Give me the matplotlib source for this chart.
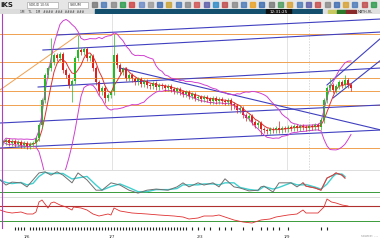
import matplotlib
matplotlib.use("Agg")
import matplotlib.pyplot as plt
import numpy as np
import pandas as pd
from matplotlib.patches import Rectangle

W, H = 380, 240

# ---- price data (one bar every 3 px) ----
closes = [
    102.8, 103.0, 102.7, 102.9, 102.6, 102.8, 102.5, 102.7, 102.4, 102.6, 102.7,
    103.2, 104.5, 107.0, 109.5, 110.2, 110.8, 111.5, 111.2, 111.6, 110.0,
    109.5, 108.5, 108.9, 111.2, 112.0, 111.8, 112.1, 111.2, 111.4, 110.2,
    108.8, 107.8, 108.2, 107.2, 107.5, 107.8, 111.5, 110.5, 109.8, 110.1,
    109.2, 109.5, 109.1, 108.8, 109.1, 108.6, 108.9, 108.5, 108.4, 108.7,
    108.3, 108.5, 108.4, 108.2, 108.4, 108.1, 107.9, 108.1, 107.8, 107.6,
    107.8, 107.4, 107.6, 107.2, 107.3, 107.1, 107.3, 107.1, 106.9, 107.2,
    106.9, 107.1, 106.9, 106.8, 107.0, 106.6, 106.4, 106.0, 106.2, 105.5,
    105.2, 105.4, 104.8, 104.5, 104.7, 104.1, 104.0, 103.9, 104.1, 104.0,
    104.2, 104.0, 104.2, 104.1, 104.3, 104.2, 104.4, 104.2, 104.4, 104.3,
    104.2, 104.4, 104.3, 104.5, 104.3, 105.0, 107.0, 108.2, 108.5, 108.0,
    108.4, 108.8, 108.5, 109.0, 108.5, 108.2,
]
spike_high = {16: 113.2, 25: 113.5, 37: 113.6, 114: 109.5, 109: 109.2, 92: 104.9}
spike_low = {23: 106.8, 34: 106.7, 76: 106.0, 86: 103.5}
wick = 0.25

h_levels = [113.6, 110.8, 109.2, 107.9, 106.5, 102.2]
orange_diag = [(-1, 108.0), (25, 113.5)]
blue_lines = [
    [(18, 113.5), (126, 115.1)],
    [(13.3, 112.0), (126, 113.8)],
    [(11.7, 108.3), (126, 110.2)],
    [(-1, 104.7), (126, 106.5)],
    [(-1, 102.2), (126, 104.0)],
    [(39, 110.2), (126, 104.0)],
    [(108, 108.5), (126, 113.2)],
    [(110, 107.2), (126, 111.0)],
]

# oscillator 1 (bar index, value)
osc1_x = [-1, 1, 3, 6, 8, 10, 12, 14, 16, 18, 20, 23, 25, 28, 31, 33, 36, 39, 42, 45,
          48, 51, 55, 58, 60, 62, 65, 67, 70, 72, 74, 77, 79, 82, 85, 86, 87, 90, 92,
          96, 98, 100, 101, 104, 106, 108, 110, 111, 113, 114]
osc1_y = [53, 39, 47, 45, 34, 53, 72, 75, 66, 75, 66, 45, 72, 53, 25, 25, 45, 39, 25, 17,
          25, 28, 25, 34, 45, 34, 45, 39, 45, 34, 56, 34, 31, 23, 25, 34, 36, 20, 45,
          45, 34, 45, 36, 31, 25, 58, 66, 72, 66, 58]

# oscillator 2 (bar index, value)
osc2_x = [-1, 1, 3, 6, 8, 10, 11, 12, 13, 15, 16, 17, 19, 21, 23, 23.5, 26, 28, 30, 32,
          35, 36, 37, 39, 43, 48, 52, 57, 60, 62, 65, 67, 70, 72, 73, 77, 80, 83, 86,
          89, 91, 95, 98, 100, 101, 105, 107, 108, 109.5, 111, 113, 115]
osc2_y = [52, 48, 46, 48, 44, 44, 48, 68, 72, 56, 66, 68, 62, 58, 52, 58, 56, 52, 44, 40,
          44, 42, 56, 50, 46, 44, 42, 40, 38, 34, 36, 40, 40, 42, 40, 32, 28, 26, 32,
          34, 38, 42, 44, 52, 46, 46, 58, 74, 68, 66, 62, 60]

date_ticks = [8, 36.3, 65.7, 94.7]
date_labels = ["1/6", "1/7", "2/3", "1/9"]

# ---- figure ----
fig = plt.figure(figsize=(W / 100, H / 100), dpi=100)
fig.patch.set_facecolor("white")


def px_axes(x0, y0, x1, y1, **kw):
    return fig.add_axes([x0 / W, 1 - y1 / H, (x1 - x0) / W, (y1 - y0) / H], **kw)


# toolbar
tb = px_axes(0, 0, 380, 9)
tb.set_xlim(0, 380); tb.set_ylim(9, 0); tb.axis("off")
tb.add_patch(Rectangle((0, 0), 380, 9, color="#e6e6e6"))
tb.text(0.5, 5, "iKS", fontsize=5, fontweight="bold", va="center", color="#222")
tb.add_patch(Rectangle((27, 1.5), 31, 6, facecolor="white", edgecolor="#999", lw=0.4))
tb.text(29, 4.7, "SDK-ID 10:56", fontsize=2.2, va="center", color="#333")
tb.add_patch(Rectangle((68, 1.5), 20, 6, facecolor="white", edgecolor="#999", lw=0.4))
tb.text(70, 4.7, "SYEUM", fontsize=2.4, va="center", color="#333")
icon_cols = ["#777", "#4a7ab8", "#888", "#2a9a4a", "#d04040", "#6a8ac8", "#999", "#3a6ab0",
             "#c8a030", "#4a7ab8", "#888", "#d05050", "#5a5aa8", "#2a8ac8", "#c04848",
             "#888", "#4a7ab8", "#e8a020", "#3a6ab0", "#777", "#4a9a5a", "#d8a030",
             "#4a7ab8", "#5a5aa8", "#c84848", "#888", "#3a6ab0", "#d8a030", "#4a7ab8",
             "#c04848", "#2a9a4a"]
for k, c in enumerate(icon_cols):
    tb.add_patch(Rectangle((92 + k * 9.3, 2), 5, 5, color=c, alpha=0.8))

# status bar
sb = px_axes(0, 9, 380, 14)
sb.set_xlim(0, 380); sb.set_ylim(5, 0); sb.axis("off")
sb.add_patch(Rectangle((0, 0), 95, 5, color="#dcdcdc"))
sb.add_patch(Rectangle((95, 0), 228, 5, color="#14506e"))
sb.add_patch(Rectangle((323, 0), 57, 5, color="#e0e0e0"))
sb.text(20, 2.6, "1M    TL    1M   ####  ###  ####  ###", fontsize=2.2, va="center", color="#333")
sb.add_patch(Rectangle((266, 0.3), 25, 4.4, color="#111"))
sb.text(278.5, 2.6, "12:31:25", fontsize=3, va="center", ha="center", color="white")
sb.add_patch(Rectangle((328, 0.5), 9, 4, color="#c8c860"))
sb.add_patch(Rectangle((337, 0.5), 9, 4, color="#2a7a2a"))
sb.add_patch(Rectangle((346, 0.5), 10, 4, color="#8a2a2a"))
sb.text(358, 2.6, "MATH-RL", fontsize=2.4, va="center", color="#333")

# ---- main price panel ----
ax = px_axes(0, 14, 380, 170)
ax.set_xlim(-1, 125.67)
ax.set_ylim(100.0, 115.6)
ax.axis("off")

for xv in [36.3, 94.7]:
    ax.axvline(xv, color="#d8d8d8", lw=0.5)
ax.axvline(102, color="#c8c8c8", lw=0.5, ls=(0, (2, 2)))

for lv in h_levels:
    ax.axhline(lv, color="#f0a050", lw=0.7)
ax.plot(*zip(*orange_diag), color="#f0a050", lw=0.7)
for seg in blue_lines:
    ax.plot(*zip(*seg), color="#4040c0", lw=0.8)

c = pd.Series(closes)
idx = np.arange(len(c))
opens = c.shift(1).fillna(c.iloc[0]).values
cv = c.values

mid = c.rolling(14, min_periods=1).mean()
sd = c.rolling(14, min_periods=2).std().fillna(0)
ax.plot(idx, mid + 2 * sd, color="#d040d0", lw=0.7)
ax.plot(idx, mid - 2 * sd, color="#d040d0", lw=0.7)
ax.plot(idx, c.rolling(5, min_periods=1).mean(), color="#e03030", lw=0.7)

for i in idx:
    o, cl = opens[i], cv[i]
    col = "#22bb22" if cl >= o else "#dd2020"
    hi = spike_high.get(i, max(o, cl) + wick)
    lo = spike_low.get(i, min(o, cl) - wick)
    ax.vlines(i, lo, hi, color=col, lw=0.5)
    ax.add_patch(Rectangle((i - 0.3, min(o, cl)), 0.6, max(abs(cl - o), 0.08),
                           color=col, lw=0))

# ---- oscillator 1 ----
a1 = px_axes(0, 166, 380, 197)
a1.set_xlim(-1, 125.67); a1.set_ylim(6.4, 90.9); a1.axis("off")
a1.patch.set_alpha(0)
a1.axhline(80, color="#cfcfcf", lw=0.5)
a1.axhline(20, color="#3a9a3a", lw=0.7)
s1 = pd.Series(osc1_y, dtype=float)
a1.plot(osc1_x, s1.rolling(2, min_periods=1).mean(), color="#40d0d0", lw=1.0)
a1.plot(osc1_x, s1, color="#707070", lw=0.7)
a1.plot(osc1_x[-9:], s1.values[-9:], color="#e04040", lw=0.7)

# ---- oscillator 2 ----
a2 = px_axes(0, 197, 380, 227)
a2.set_xlim(-1, 125.67); a2.set_ylim(18, 78)
a2.patch.set_alpha(0)
for sp in a2.spines.values():
    sp.set_visible(False)
a2.axhline(78, color="#cfcfcf", lw=0.5)
a2.axhline(60, color="#b03030", lw=0.8)
a2.axhline(30, color="#3a9a3a", lw=0.7)
a2.plot(osc2_x, osc2_y, color="#e03030", lw=0.6)
a2.set_yticks([])
a2.set_xticks(date_ticks)
a2.set_xticklabels(date_labels, fontsize=3, color="#333")
a2.set_xticks(list(range(4, 62)) + [63, 65, 67, 69, 72, 74, 76, 80, 83, 86, 88, 90, 92, 95, 106, 108], minor=True)
a2.tick_params(axis="x", which="major", length=0, pad=6)
a2.tick_params(axis="x", which="minor", length=1.8, width=0.8, color="#222", direction="out", pad=0.5)

fig.add_artist(plt.Line2D([2 / W, 2 / W], [1 - 228 / H, 1 - 14 / H], color="#b040c0", lw=0.8))
fig.text(378 / W, 1 - 237 / H, "source: ---", fontsize=2.4, color="#999", ha="right")

fig.savefig("out.png", dpi=100)
